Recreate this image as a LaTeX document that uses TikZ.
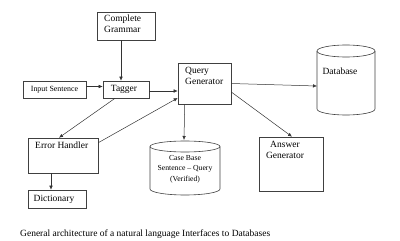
\documentclass[tikz,border=0pt]{standalone}
\usepackage{fontspec}
\setmainfont{Liberation Serif}
\usetikzlibrary{arrows.meta}
\tikzset{
    box/.style={draw=black!75, line width=0.6pt, rectangle, inner sep=0pt},
    boxtext/.style={font=\fontsize{9.5}{11}\selectfont, align=left, inner sep=0pt},
    arr/.style={draw=black!80, line width=0.5pt, -{Latex[length=4pt,width=3.5pt]}}
}

\begin{document}
\begin{tikzpicture}[x=1pt, y=-1pt]
    \useasboundingbox (0,0) rectangle (400,241);
    % Boxes of the pipeline:
    \node[box, minimum width=58pt, minimum height=28pt] (gram) at (126,26) {};
    \node[boxtext, anchor=north west] (gramtext) at (104,14.5) {Complete\\Grammar};
    \node[box, minimum width=63pt, minimum height=17pt, font=\fontsize{7.9}{9}\selectfont] (input) at (54.5,89.5) {Input Sentence};
    \node[box, minimum width=46pt, minimum height=17pt, font=\fontsize{9.5}{11}\selectfont] (tagger) at (126,89.5) {\hspace{-4pt}Tagger};
    \node[box, minimum width=53pt, minimum height=41pt] (qgen) at (204.5,83.5) {};
    \node[boxtext, anchor=north west] (qgentext) at (185,67.5) {Query\\Generator};
    \node[box, minimum width=64pt, minimum height=54pt] (answer) at (291,164) {};
    \node[boxtext, align=center, anchor=north] (answertext) at (285,141.5) {Answer\\Generator};
    \node[box, minimum width=70pt, minimum height=35pt] (error) at (63,155.5) {};
    \node[boxtext, anchor=north west] (errortext) at (35,142) {Error Handler};
    \node[box, minimum width=58pt, minimum height=18pt, font=\fontsize{9.5}{11}\selectfont] (dict) at (57,199) {\hspace{-6pt}Dictionary};
    % Cylinders (database and case base)
    \draw[black!75, line width=0.6pt] (317,51) -- (317,109) arc[start angle=180, end angle=0, x radius=29, y radius=6] -- (375,51);
    \draw[black!75, line width=0.6pt] (346,51) ellipse [x radius=29, y radius=6];
    \coordinate (db) at (317,86);
    \node[boxtext] (dbtext) at (340,71) {Database};
    \draw[black!75, line width=0.6pt] (150,146.5) -- (150,189) arc[start angle=180, end angle=0, x radius=35, y radius=6] -- (220,146.5);
    \draw[black!75, line width=0.6pt] (185,146.5) ellipse [x radius=35, y radius=5.5];
    \coordinate (cbase) at (184,140);
    \node[boxtext, align=center, font=\fontsize{7.7}{10.6}\selectfont] (cbasetext) at (185,169) {Case Base\\Sentence -- Query\\(Verified)};
    % Connectors
    \draw[arr] ([xshift=-5pt]gram.south) -- ([xshift=-5pt]tagger.north);
    \draw[arr] ([yshift=3pt]input.east) -- ([yshift=3pt]tagger.west);
    \draw[arr] ([yshift=-1.5pt]tagger.east) -- ([yshift=-1.5pt]tagger.east -| qgen.west);
    \draw[arr] (qgen.east) -- (db);
    \draw[arr] ([yshift=-8.5pt]qgen.east) -- ([xshift=1pt]answer.north);
    \draw[arr] ([xshift=7pt]qgen.south west) -- (cbase);
    \draw[arr] ([xshift=-11pt]tagger.south) -- ([xshift=-4pt]error.north);
    \draw[arr] ([yshift=-5pt]error.north east) -- ([yshift=-14.5pt]qgen.west);
    \draw[arr] ([xshift=-12pt]error.south) -- ([xshift=-6pt]dict.north);
    % Caption
    \node[anchor=west, inner sep=0pt, font=\fontsize{9.5}{11}\selectfont] (caption) at (20,234) {General architecture of a natural language Interfaces to Databases};
\end{tikzpicture}
\end{document}
